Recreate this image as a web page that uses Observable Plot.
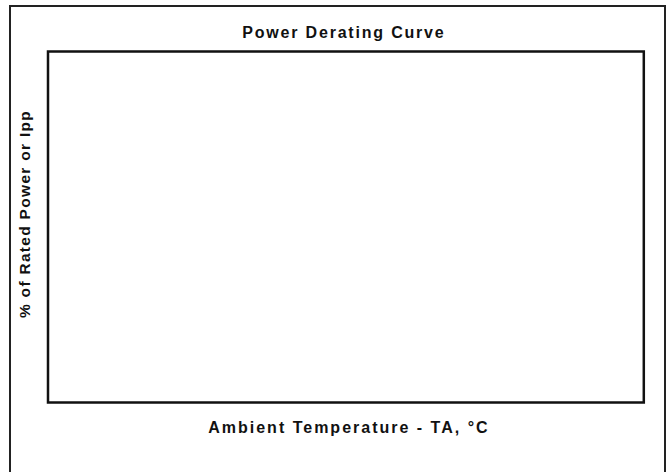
<!DOCTYPE html>
<html>
<head>
<meta charset="utf-8">
<script src="https://cdn.jsdelivr.net/npm/d3@7"></script>
<script src="https://cdn.jsdelivr.net/npm/@observablehq/plot@0.6"></script>
<style>
  html, body { margin: 0; padding: 0; background: #fff; }
  #wrap { position: relative; width: 670px; height: 472px; overflow: hidden; }
  #outer { position: absolute; left: 9px; top: 5px; width: 653px; height: 490px;
           border: 2px solid #222; border-bottom: none; pointer-events: none; }
  #chart svg text { font-family: "Liberation Sans", Arial, sans-serif; font-weight: bold; }
</style>
</head>
<body>
<div id="wrap"><div id="chart"></div><div id="outer"></div></div>
<script>
const titleText = ["Power Derating Curve"];
const xLabel = ["Ambient Temperature - TA, °C"];
const yLabel = ["% of Rated Power or Ipp"];
const xTicks = [];
const yTicks = [];

const chart = Plot.plot({
  width: 670,
  height: 472,
  marginLeft: 47.5,
  marginTop: 51,
  marginRight: 26.7,
  marginBottom: 70,
  style: { background: "transparent", color: "#111", fontFamily: "Liberation Sans, Arial, sans-serif" },
  x: { axis: null, domain: [0, 1] },
  y: { axis: null, domain: [0, 1] },
  marks: [
    Plot.frame({ stroke: "#111", strokeWidth: 2.5 }),
    Plot.text(titleText, {
      text: d => d, frameAnchor: "top", lineAnchor: "bottom", textAnchor: "middle",
      dy: -13.5, dx: -2, fontSize: 16, fontWeight: "bold", fill: "#111",
      className: "ttl"
    }),
    Plot.text(xLabel, {
      text: d => d, frameAnchor: "bottom", lineAnchor: "bottom", textAnchor: "middle",
      dy: 30.3, dx: 3, fontSize: 16, fontWeight: "bold", fill: "#111",
      className: "xl"
    }),
    Plot.text(yLabel, {
      text: d => d, frameAnchor: "left", rotate: -90, lineAnchor: "middle", textAnchor: "middle",
      dx: -22.5, dy: -13, fontSize: 15.5, fontWeight: "bold", fill: "#111",
      className: "yl"
    })
  ]
});
chart.querySelectorAll(".ttl text").forEach(t => t.style.letterSpacing = "1.8px");
chart.querySelectorAll(".xl text").forEach(t => t.style.letterSpacing = "2px");
chart.querySelectorAll(".yl text").forEach(t => t.style.letterSpacing = "1.3px");
document.getElementById("chart").appendChild(chart);
</script>
</body>
</html>
